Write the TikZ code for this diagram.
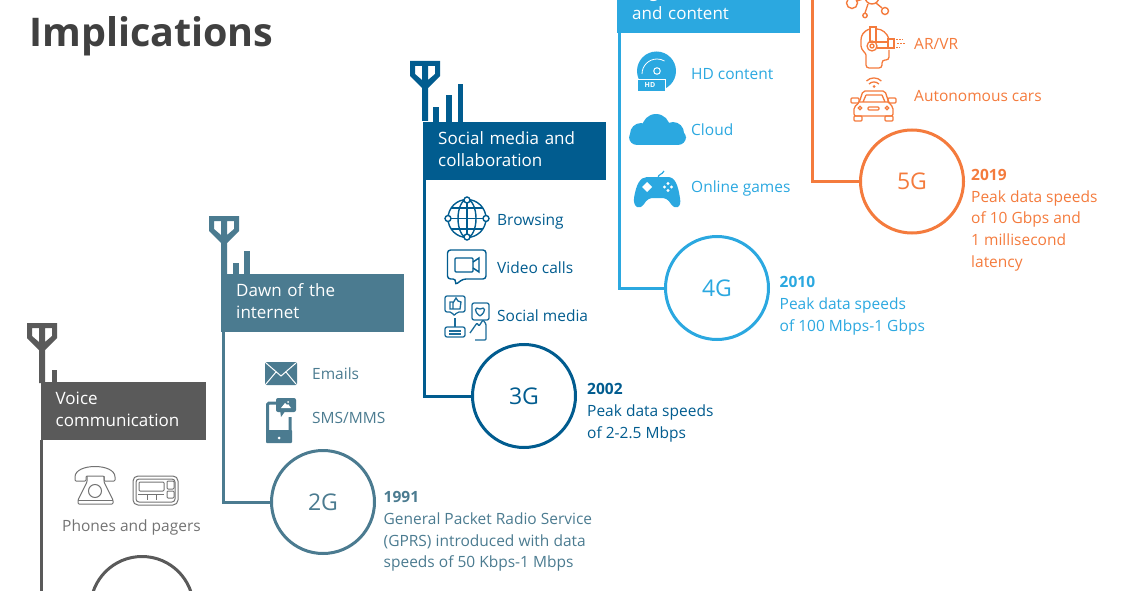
\documentclass[tikz,border=0pt]{standalone}
\usepackage{fontspec}
\setmainfont{Open Sans}
\usepackage{xcolor}
\usepackage{tikz}
\usetikzlibrary{shapes,positioning,calc}

\definecolor{genone}{HTML}{5A5A5A}
\definecolor{gentwo}{HTML}{4B7B90}
\definecolor{genthree}{HTML}{015C8F}
\definecolor{genfour}{HTML}{2BA8E0}
\definecolor{genfive}{HTML}{F47B3D}

\begin{document}
\begin{tikzpicture}[
    x=1pt, y=-1pt,
    header/.style={rectangle, anchor=north west, text=white, align=left, inner xsep=15pt, inner ysep=0pt, minimum height=58pt, text height=12pt, text depth=25.5pt, font=\fontsize{17}{22}\selectfont},
    gen/.style={circle, draw, line width=3pt, fill=white, minimum size=103pt, font=\fontsize{23}{26}\selectfont},
    info/.style={anchor=north west, align=left, inner sep=0pt, font=\fontsize{15.5}{21.7}\selectfont},
    item/.style={anchor=west, inner sep=0pt, text height=13pt, text depth=1pt, font=\fontsize{15.5}{20}\selectfont},
    stem/.style={line width=3pt},
    antenna/.pic={
        \fill[even odd rule] (-15,0) -- (15,0) -- (15,15) -- (3,27) -- (3,60) -- (-3,60) -- (-3,27) -- (-15,15) -- cycle
            (-10,5) -- (-3,5) -- (-3,19) -- (-10,13) -- cycle
            (3,5) -- (10,5) -- (10,13) -- (3,19) -- cycle;
    }
]
\useasboundingbox (0,0) rectangle (1130,591);
\clip (0,0) rectangle (1130,591);

% Title
\node[anchor=west, inner sep=0pt, text=black!75, font=\fontsize{39.5}{44}\bfseries] (title) at (29,36) {Implications};

% Headers
\node[header, fill=genone, text width=135.5pt] (head1) at (40.5,382) {Voice\\communication};
\node[header, fill=gentwo, text width=153pt] (head2) at (221,274) {Dawn of the\\internet};
\node[header, fill=genthree, text width=153pt] (head3) at (423,122) {Social media and\\collaboration};
\node[header, fill=genfour, text width=153pt] (head4) at (617,-25) {High\\and content};
\coordinate (head5) at (812,-10);

% Circles
\node[gen, draw=genone] (gen1) at (142,608) {};
\node[gen, draw=gentwo, text=gentwo] (gen2) at (323,502) {2G};
\node[gen, draw=genthree, text=genthree] (gen3) at (524,396) {3G};
\node[gen, draw=genfour, text=genfour] (gen4) at (717,288) {4G};
\node[gen, draw=genfive, text=genfive] (gen5) at (912,181.5) {5G};

% Stems
\draw[stem, genone] ([xshift=1pt]head1.south west) |- (gen1.west);
\draw[stem, gentwo] ([xshift=2.5pt]head2.south west) |- (gen2.west);
\draw[stem, genthree] ([xshift=1.5pt]head3.south west) |- (gen3.west);
\draw[stem, genfour] ([xshift=2.5pt]head4.south west) |- (gen4.west);
\draw[stem, genfive] (head5) |- (gen5.west);

% Antennas
\pic[genone] at (42,323) {antenna};
\fill[genone] (52,370) rectangle (57,382);
\pic[gentwo] at (224,216) {antenna};
\fill[gentwo] (233,263) rectangle (239,274);
\fill[gentwo] (244,251) rectangle (250,274);
\pic[genthree] at (425,61) {antenna};
\fill[genthree] (433,107) rectangle (439,122);
\fill[genthree] (446,95) rectangle (452,122);
\fill[genthree] (458,84) rectangle (463,122);

% Info text
\node[info, text=gentwo] (info2) at (383.5,491.5) {\textbf{1991}\\General Packet Radio Service\\(GPRS) introduced with data\\speeds of 50 Kbps-1 Mbps};
\node[info, text=genthree] (info3) at (587,383.5) {\textbf{2002}\\Peak data speeds\\of 2-2.5 Mbps};
\node[info, text=genfour] (info4) at (779.5,276.5) {\textbf{2010}\\Peak data speeds\\of 100 Mbps-1 Gbps};
\node[info, text=genfive] (info5) at (971,169) {\textbf{2019}\\Peak data speeds\\of 10 Gbps and\\1 millisecond\\latency};

% Item labels
\node[item, text=genone!85] (phones) at (62,525) {Phones and pagers};
\node[item, text=gentwo] (emails) at (312,373) {Emails};
\node[item, text=gentwo] (sms) at (312,417) {SMS/MMS};
\node[item, text=genthree] (browsing) at (497,219) {Browsing};
\node[item, text=genthree] (video) at (497,267) {Video calls};
\node[item, text=genthree] (social) at (497,315) {Social media};
\node[item, text=genfour] (hd) at (691,74) {HD content};
\node[item, text=genfour] (cloud) at (691,130) {Cloud};
\node[item, text=genfour] (games) at (691,187) {Online games};
\node[item, text=genfive] (arvr) at (914,44) {AR/VR};
\node[item, text=genfive] (cars) at (914,96) {Autonomous cars};

% Telephone
\begin{scope}[genone!85, line width=1pt, rounded corners=1pt]
\draw (75,478) .. controls (75,463) and (115,463) .. (115,478) -- (115,481) -- (104,481) -- (104,476) -- (86,476) -- (86,481) -- (75,481) -- cycle;
\draw (87,476) -- (87,482) -- (78,500) -- (78,504) -- (113,504) -- (113,500) -- (104,482) -- (104,476);
\draw (95,491) circle (6.5);
\draw (78,500) -- (113,500);
\end{scope}

% Pager
\begin{scope}[genone!85, line width=1pt]
\draw[rounded corners=5pt] (133,476) rectangle (178,505);
\draw[rounded corners=3pt] (136,479) rectangle (175,502);
\draw[rounded corners=1pt] (139,482) rectangle (164,491);
\draw[rounded corners=1pt] (167,481) rectangle (174,489);
\draw[rounded corners=1pt] (167,491) rectangle (174,498);
\draw (138,494) -- (164,494) (147,494) -- (147,500) (156,494) -- (156,500);
\end{scope}

% Envelope
\fill[gentwo, rounded corners=1.5pt] (265,362) rectangle (297,385);
\draw[white, line width=1pt] (266,363) -- (281,376) -- (296,363) (266,384) -- (276,372) (296,384) -- (286,372);

% Smartphone with message
\draw[gentwo, line width=3pt, rounded corners=1.5pt] (279,403) -- (267.5,403) -- (267.5,441) -- (290,441) -- (290,417);
\fill[gentwo, rounded corners=1pt] (266,430) rectangle (292,443);
\fill[white] (279,438) circle (1.5);
\fill[gentwo, rounded corners=2pt] (276,398) rectangle (296,412);
\fill[gentwo] (280,410) -- (286,410) -- (281,417) -- cycle;
\fill[white] (281,408) -- (285,403) -- (287,405) -- (288,404) -- (291,408) -- cycle;
\fill[white] (288,402) circle (1);

% Globe
\begin{scope}[genthree, line width=1.4pt]
\draw (467,218.5) circle (19);
\draw (467,218.5) ellipse (9 and 19);
\draw (467,199) -- (467,238) (448,218.5) -- (486,218.5);
\draw (451,208) -- (483,208) (451,229) -- (483,229);
\foreach \px/\py in {467/200, 467/237, 448/218.5, 486/218.5}
    \draw[fill=white] (\px,\py) circle (3);
\end{scope}

% Video call
\begin{scope}[genthree, line width=1.4pt]
\draw[rounded corners=3pt] (447.5,250) -- (486,250) -- (486,279) -- (463,279) -- (455,285) -- (456,279) -- (447.5,279) -- cycle;
\draw[rounded corners=1pt] (455,258) rectangle (473,272);
\draw (473,262) -- (479,258) -- (479,272) -- (473,268);
\end{scope}

% Social media
\begin{scope}[genthree!90, line width=1.3pt]
\draw[rounded corners=2pt] (445,296) -- (465,296) -- (465,312) -- (457,312) -- (454,316) -- (452,312) -- (445,312) -- cycle;
\draw (450,302) rectangle (453,309) (453,303) -- (456,298) -- (458,301) -- (461,302) -- (460,309) -- (453,309);
\draw[rounded corners=2pt] (472,303) rectangle (489,320);
\draw (480,316) .. controls (473,311) and (475,306) .. (480,309) .. controls (485,306) and (487,311) .. (480,316);
\draw[rounded corners=2pt] (445,327) rectangle (465,337);
\draw (449,331) -- (461,331) (449,334) -- (461,334) (455,318) -- (455,327);
\draw[rounded corners=1pt] (470,333) -- (477,323) -- (479,326) -- (483,320) -- (486,324) -- (486,340) -- (475,340);
\end{scope}

% Disc
\fill[genfour] (656.5,71) circle (19.5);
\fill[white] (657,71) circle (3.8);
\fill[genfour] (657,71) circle (2.6);
\draw[white, line width=0.8pt] (642,74) arc (180:300:15);
\fill[genfour, draw=white, line width=0.7pt] (637,79) rectangle (665,91);
\node[inner sep=0pt, text=white, font=\fontsize{7}{8}\bfseries] (hdmark) at (650,85) {HD};

% Cloud
\fill[genfour, rounded corners=8pt] (629,130) rectangle (686,145);
\fill[genfour] (656,128) circle (14);
\fill[genfour] (641,134) circle (11);
\fill[genfour] (673,133) circle (11);

% Gamepad
\fill[genfour] (647,177) .. controls (640,177) and (636,185) .. (634,198) .. controls (633,208) and (640,210) .. (644,204) .. controls (647,199) and (650,198) .. (654,198) -- (661,198) .. controls (665,198) and (668,199) .. (671,204) .. controls (675,210) and (682,208) .. (680,198) .. controls (678,185) and (675,177) .. (668,177) -- cycle;
\draw[genfour, line width=1.2pt] (658,178) .. controls (658,174) and (662,175) .. (664,171);
\fill[white] (647,182) -- (652,187) -- (647,192) -- (642,187) -- cycle;
\foreach \px/\py in {668/183.5, 668/190.5, 664.5/187, 671.5/187}
    \fill[white] (\px,\py) circle (1.6);

% Network
\begin{scope}[genfive, line width=1.4pt]
\draw (852,3) circle (5.5);
\draw (865,15.5) circle (2.2);
\draw (885,11) circle (3.5);
\draw (857,1) -- (866,-2) (865,13) -- (868,4) (882,8) -- (876,3);
\draw (872,-3) circle (7);
\end{scope}

% Head with headset
\begin{scope}[genfive, line width=1.3pt]
\draw[rounded corners=3pt] (870,29) .. controls (863,31) and (861,36) .. (861,43) .. controls (861,50) and (866,53) .. (866,58) -- (866,68) -- (882,68) -- (882,60) -- (889,60) -- (889,50);
\draw (877,29) .. controls (882,29) and (887,33) .. (889,39);
\draw (870,27) rectangle (876,42);
\draw (872,46) circle (5);
\draw (872,46) circle (2);
\draw (877,42) -- (888,42) (877,48) -- (888,48);
\draw (888,39) rectangle (894,48);
\draw[line width=1pt, dash pattern=on 2pt off 1pt] (896,40) -- (903,40) (897,44) -- (905,44) (896,48) -- (900,48);
\end{scope}

% Car
\begin{scope}[genfive, line width=1.3pt]
\draw (869,84) arc (225:315:7) (866.5,81) arc (225:315:10.5);
\fill (874,86.5) circle (1.5);
\draw[rounded corners=2pt] (859,103) -- (863,91) -- (885,91) -- (889,103) -- (893,107) -- (893,116) -- (854,116) -- (854,107) -- cycle;
\draw (860,102) -- (888,102) (866,95) -- (882,95) (866,95) -- (863,102) (882,95) -- (885,102);
\draw[rounded corners=1pt] (851,98) rectangle (859,103) (888,98) rectangle (896,103);
\draw[rounded corners=1pt] (854,116) rectangle (862,121) (885,116) rectangle (893,121);
\draw[rounded corners=1pt] (868,107) rectangle (879,110);
\draw (860,108) circle (1.8) (887,108) circle (1.8);
\end{scope}

\end{tikzpicture}
\end{document}
